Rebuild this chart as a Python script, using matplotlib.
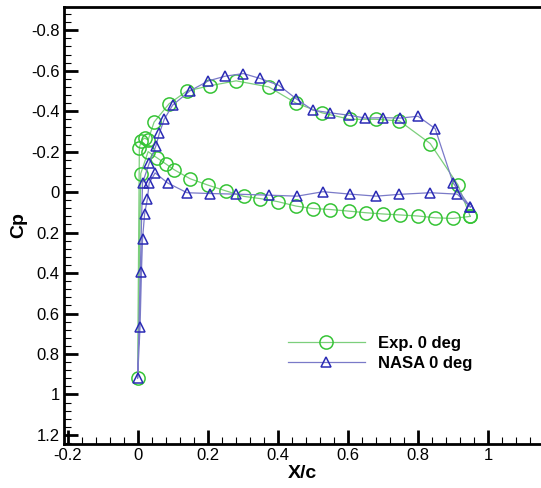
#!/usr/bin/env python3

import matplotlib

matplotlib.use("Agg")

import matplotlib.pyplot as plt
from matplotlib.ticker import MultipleLocator, FuncFormatter

# Experimental pressure taps, lower surface TE -> LE, stagnation, upper surface LE -> TE
exp_x = [0.949, 0.90, 0.849, 0.80, 0.75, 0.70, 0.652, 0.603, 0.55, 0.50,
         0.452, 0.40, 0.35, 0.303, 0.252, 0.202, 0.15, 0.105, 0.08, 0.055,
         0.03, 0.009, 0.0, 0.005, 0.011, 0.02, 0.03, 0.047, 0.09, 0.141,
         0.207, 0.281, 0.374, 0.452, 0.526, 0.605, 0.681, 0.747, 0.835, 0.914,
         0.949]
exp_cp = [0.12, 0.13, 0.127, 0.118, 0.113, 0.108, 0.102, 0.094, 0.086, 0.081,
          0.069, 0.047, 0.032, 0.021, -0.006, -0.034, -0.066, -0.11, -0.14, -0.17,
          -0.2, -0.092, 0.92, -0.22, -0.255, -0.267, -0.258, -0.346, -0.437, -0.5,
          -0.526, -0.55, -0.52, -0.44, -0.392, -0.36, -0.36, -0.352, -0.24, -0.036,
          0.12]

# NASA computation, same ordering
nasa_x = [0.949, 0.912, 0.835, 0.747, 0.681, 0.607, 0.529, 0.455, 0.374, 0.281,
          0.207, 0.141, 0.086, 0.05, 0.033, 0.028, 0.02, 0.014, 0.011, 0.007,
          0.0, 0.014, 0.033, 0.052, 0.062, 0.076, 0.10, 0.149, 0.202, 0.25,
          0.302, 0.349, 0.403, 0.452, 0.50, 0.55, 0.603, 0.65, 0.70, 0.75,
          0.80, 0.849, 0.90, 0.949]
nasa_cp = [0.073, 0.01, 0.003, 0.011, 0.02, 0.01, -0.002, 0.02, 0.015, 0.01,
           0.007, 0.003, -0.045, -0.095, -0.045, 0.032, 0.108, 0.233, 0.394, 0.665,
           0.92, -0.045, -0.142, -0.227, -0.29, -0.36, -0.43, -0.5, -0.55, -0.573,
           -0.586, -0.562, -0.528, -0.462, -0.405, -0.392, -0.38, -0.366, -0.368, -0.366,
           -0.375, -0.314, -0.046, 0.073]

x_ticks = [-0.2, 0, 0.2, 0.4, 0.6, 0.8, 1]
cp_ticks = [-0.8, -0.6, -0.4, -0.2, 0, 0.2, 0.4, 0.6, 0.8, 1, 1.2]

plt.rcParams["font.family"] = ["Liberation Sans", "DejaVu Sans"]

fig = plt.figure(figsize=(5.41, 4.88), dpi=100)
ax = fig.add_axes([64 / 541, 1 - 444 / 488, 1 - 64 / 541, (444 - 7) / 488])

ax.plot(exp_x, exp_cp, color="#7ccf7c", lw=0.9, marker="o", ms=9.5,
        mfc="none", mec="#36c436", mew=1.1, label="Exp. 0 deg")
ax.plot(nasa_x, nasa_cp, color="#7a7ac8", lw=0.9, marker="^", ms=7.5,
        mfc="none", mec="#2b2bb5", mew=1.1, label="NASA 0 deg")

ax.set_xlim(-0.21, 1.151)
ax.set_ylim(1.245, -0.915)

ax.set_xticks(x_ticks)
ax.set_yticks(cp_ticks)
ax.xaxis.set_minor_locator(MultipleLocator(0.04))
ax.yaxis.set_minor_locator(MultipleLocator(0.04))
ax.xaxis.set_major_formatter(FuncFormatter(lambda v, _: f"{v:g}"))
ax.yaxis.set_major_formatter(FuncFormatter(lambda v, _: f"{v:g}"))

ax.tick_params(which="both", direction="in", top=False, right=False,
               labelsize=12, pad=3)
ax.tick_params(which="major", length=10, width=2)
ax.tick_params(which="minor", length=5, width=0.8)

for side in ("left", "bottom", "top"):
    ax.spines[side].set_linewidth(2.0)
ax.spines["right"].set_visible(False)

ax.set_xlabel("X/c", fontsize=14, fontweight="bold", labelpad=1)
ax.set_ylabel("Cp", fontsize=14, fontweight="bold", labelpad=3)

ax.legend(loc="upper left", bbox_to_anchor=(288 / 541, 1 - 336 / 488),
          bbox_transform=fig.transFigure, frameon=False,
          prop={"weight": "bold", "size": 12}, handlelength=4.6,
          handletextpad=0.78, labelspacing=0.3, borderpad=0, borderaxespad=0)

fig.savefig("out.png", dpi=100)
